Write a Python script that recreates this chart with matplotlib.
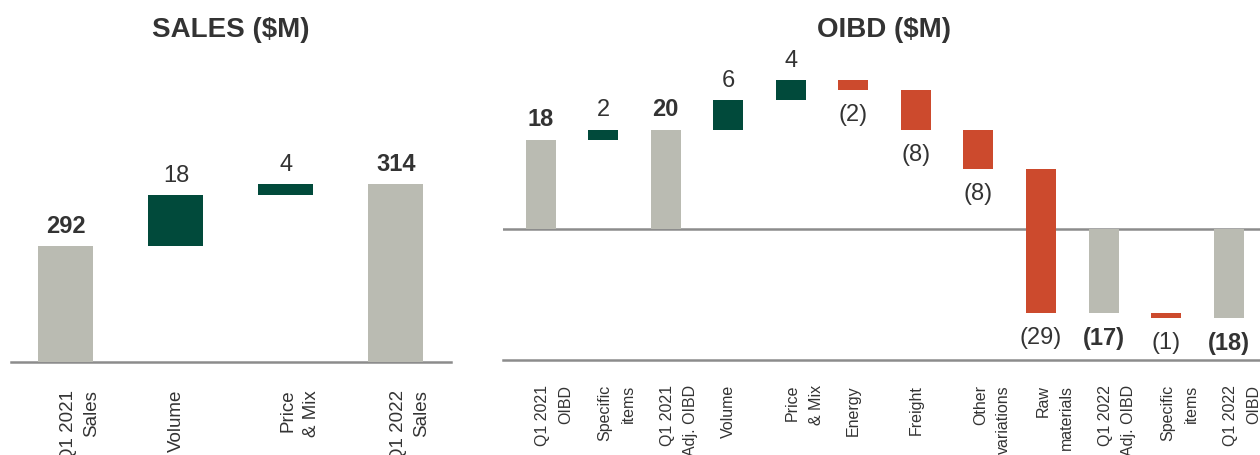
import matplotlib
matplotlib.use("Agg")
import matplotlib.pyplot as plt
from matplotlib.transforms import ScaledTranslation, blended_transform_factory

# Font: narrow sans where available, otherwise regular Liberation Sans.
plt.rcParams["font.family"] = ["Liberation Sans Narrow", "Liberation Sans", "DejaVu Sans"]

TEXT = "#333333"
GREY = "#babbb2"
GREEN = "#014a3b"
RED = "#cc4a2d"
AXIS = "#8c8c8c"

# Sales bridge ($M)
sales_labels = ["Q1 2021\nSales", "Volume", "Price\n& Mix", "Q1 2022\nSales"]
sales_values = [292, 18, 4, 314]
sales_is_total = [True, False, False, True]

# OIBD bridge ($M)
oibd_labels = [
    "Q1 2021\nOIBD", "Specific\nitems", "Q1 2021\nAdj. OIBD", "Volume",
    "Price\n& Mix", "Energy", "Freight", "Other\nvariations", "Raw\nmaterials",
    "Q1 2022\nAdj. OIBD", "Specific\nitems", "Q1 2022\nOIBD",
]
oibd_values = [18, 2, 20, 6, 4, -2, -8, -8, -29, -17, -1, -18]
oibd_is_total = [True, False, True, False, False, False, False, False, False,
                 True, False, True]


def fmt(v):
    return f"({abs(v)})" if v < 0 else f"{v}"


def waterfall(ax, labels, values, totals, width, label_size, tick_size, pad,
              line_gap, spacing):
    fig = ax.figure
    running = 0
    for i, (v, tot) in enumerate(zip(values, totals)):
        if tot:
            bottom, height, color = 0, v, GREY
            running = v
        else:
            bottom, height = running, v
            color = GREEN if v > 0 else RED
            running += v
        ax.bar(i, height, bottom=bottom, width=width, color=color, zorder=3)

        top = max(bottom, bottom + height)
        low = min(bottom, bottom + height)
        weight = "bold" if tot else "normal"
        if v >= 0:
            off = ScaledTranslation(0, 6 / 72, fig.dpi_scale_trans)
            ax.text(i, top, fmt(v), ha="center", va="bottom", fontsize=label_size,
                    fontweight=weight, color=TEXT, transform=ax.transData + off)
        else:
            off = ScaledTranslation(0, -10 / 72, fig.dpi_scale_trans)
            ax.text(i, low, fmt(v), ha="center", va="top", fontsize=label_size,
                    fontweight=weight, color=TEXT, transform=ax.transData + off)

    # Category labels: rotated, first line centred under the bar.
    trans = blended_transform_factory(ax.transData, ax.transAxes)
    for i, lab in enumerate(labels):
        n = lab.count("\n")
        off = ScaledTranslation(n * line_gap / 2 / 72, -pad / 72, fig.dpi_scale_trans)
        ax.text(i, 0, lab, rotation=90, ha="center", va="top", multialignment="right",
                fontsize=tick_size, color=TEXT, linespacing=spacing,
                transform=trans + off)

    ax.set_xlim(-0.5, len(values) - 0.5)
    ax.set_xticks([])
    ax.set_yticks([])
    for side in ["top", "left", "right"]:
        ax.spines[side].set_visible(False)
    ax.spines["bottom"].set_color(AXIS)
    ax.spines["bottom"].set_linewidth(1.8)


fig = plt.figure(figsize=(12.6, 4.55), dpi=100)

ax1 = fig.add_axes([0.0087, 0.2044, 0.3492, 0.6637])
waterfall(ax1, sales_labels, sales_values, sales_is_total, 0.5, 17, 13.5, 20, 20, 1.5)
ax1.set_ylim(250.8, 358)

ax2 = fig.add_axes([0.3992, 0.2088, 0.6008, 0.6593])
waterfall(ax2, oibd_labels, oibd_values, oibd_is_total, 0.48, 17, 11.5, 18, 19.5, 1.7)
ax2.set_xlim(-0.6, 11.5)
ax2.set_ylim(-26.5, 34.1)
ax2.axhline(0, color=AXIS, linewidth=1.8, zorder=1)

fig.text(0.1833, 1 - 30 / 455, "SALES ($M)", ha="center", va="center",
         fontsize=20, fontweight="bold", color=TEXT)
fig.text(0.7016, 1 - 30 / 455, "OIBD ($M)", ha="center", va="center",
         fontsize=20, fontweight="bold", color=TEXT)

fig.savefig("out.png", dpi=100)
